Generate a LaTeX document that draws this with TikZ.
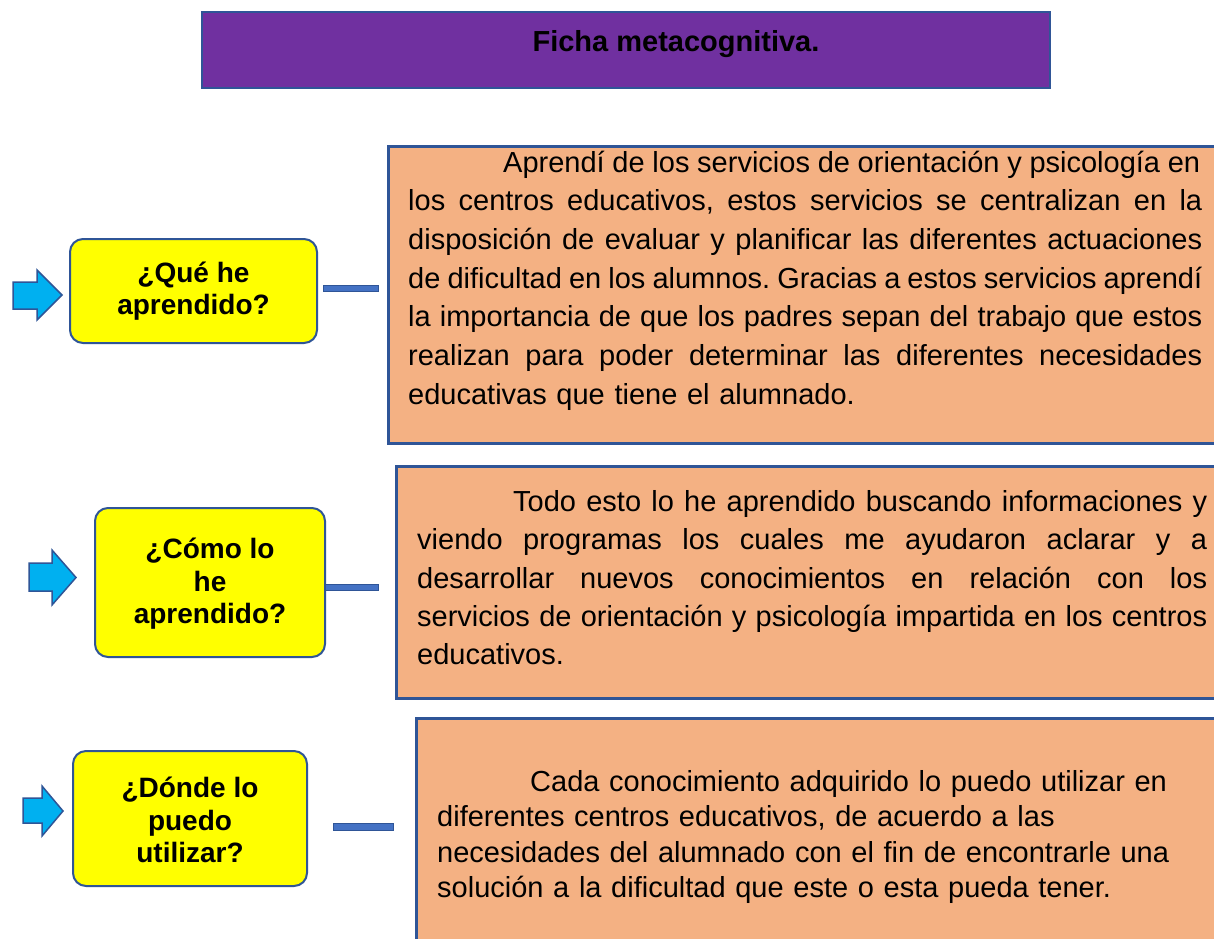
\documentclass[tikz,border=0pt]{standalone}
\usepackage{fontspec}
\setmainfont{Liberation Sans}
\frenchspacing
\definecolor{titlepurple}{HTML}{7030A0}
\definecolor{edgeblue}{HTML}{2F5597}
\definecolor{boxorange}{HTML}{F4B183}
\definecolor{qyellow}{HTML}{FFFF00}
\definecolor{arrowcyan}{HTML}{00B0F0}
\definecolor{barblue}{HTML}{4472C4}
\newcommand\jl[2]{{\spaceskip=0.278em plus 1fil minus 0.12em\xspaceskip=\spaceskip\makebox[#1][s]{#2}}}
\begin{document}
\begin{tikzpicture}[x=1pt,y=-1pt,
  titlebox/.style={draw=edgeblue,line width=2pt,fill=titlepurple,inner sep=0pt},
  orangebox/.style={draw=edgeblue,line width=2.5pt,fill=boxorange,inner sep=0pt},
  qbox/.style={draw=edgeblue,line width=2pt,fill=qyellow,rounded corners=13pt,inner sep=0pt},
  qtext/.style={align=center,inner sep=0pt,font=\fontsize{28}{32.5}\selectfont\bfseries},
  bodytext/.style={align=left,inner sep=0pt,anchor=north west,font=\fontsize{29}{38.7}\selectfont},
  blockarrow/.style={draw=edgeblue,line width=1.5pt,fill=arrowcyan,line join=miter},
  barline/.style={draw=edgeblue,line width=1pt,fill=barblue}]
\clip (0,0) rectangle (1214,938);
\fill[white] (0,0) rectangle (1214,938);

% title
\node[titlebox,minimum width=848pt,minimum height=76pt] (title) at (626,50) {};
\node[inner sep=0pt,anchor=base,font=\fontsize{29}{33}\selectfont\bfseries] (titletext) at (676,51) {Ficha metacognitiva.};

% orange boxes
\node[orangebox,anchor=north west,minimum width=850pt,minimum height=297pt] (b1) at (387,145) {};
\node[orangebox,anchor=north west,minimum width=850pt,minimum height=232pt] (b2) at (395,465) {};
\node[orangebox,anchor=north west,minimum width=850pt,minimum height=260pt] (b3) at (415,717) {};

\node[bodytext,text width=800pt] (t1) at (408,144.9) {\noindent\strut\hspace*{95pt}\jl{697pt}{Aprendí de los servicios de orientación y psicología en}\\
\jl{794pt}{los centros educativos, estos servicios se centralizan en la}\\
\jl{794pt}{disposición de evaluar y planificar las diferentes actuaciones}\\
\jl{794pt}{de dificultad en los alumnos. Gracias a estos servicios aprendí}\\
\jl{794pt}{la importancia de que los padres sepan del trabajo que estos}\\
\jl{794pt}{realizan para poder determinar las diferentes necesidades}\\
educativas que tiene el alumnado.};

\node[bodytext,text width=796pt,font=\fontsize{29}{38.3}\selectfont] (t2) at (417,484.5) {\noindent\strut\hspace*{96pt}\jl{694pt}{Todo esto lo he aprendido buscando informaciones y}\\
\jl{790pt}{viendo programas los cuales me ayudaron aclarar y a}\\
\jl{790pt}{desarrollar nuevos conocimientos en relación con los}\\
\jl{790pt}{servicios de orientación y psicología impartida en los centros}\\
educativos.};

\node[bodytext,text width=770pt,font=\fontsize{29}{35.3}\selectfont] (t3) at (437,766.5) {\noindent\strut\hspace*{93pt}Cada conocimiento adquirido lo puedo utilizar en\\
diferentes centros educativos, de acuerdo a las\\
necesidades del alumnado con el fin de encontrarle una\\
solución a la dificultad que este o esta pueda tener.};

% question boxes
\node[qbox,minimum width=247pt,minimum height=104pt] (q1) at (193.5,291) {};
\node[qtext] (q1t) at (q1) {¿Qué he\\aprendido?};
\node[qbox,minimum width=230pt,minimum height=149pt] (q2) at (210,582.5) {};
\node[qtext] (q2t) at (210,584) {¿Cómo lo\\he\\aprendido?};
\node[qbox,minimum width=234pt,minimum height=135pt] (q3) at (190,818.5) {};
\node[qtext] (q3t) at (190,820) {¿Dónde lo\\puedo\\utilizar?};

% block arrows
\draw[blockarrow] (13,282) -- (37,282) -- (37,270) -- (62,295) -- (37,320) -- (37,309) -- (13,309) -- cycle;
\draw[blockarrow] (29,563) -- (52,563) -- (52,550) -- (76,577.5) -- (52,605) -- (52,591) -- (29,591) -- cycle;
\draw[blockarrow] (23,798) -- (42,798) -- (42,786) -- (63,811) -- (42,836) -- (42,823) -- (23,823) -- cycle;

% bars
\draw[barline] (323,285) rectangle (378,291);
\draw[barline] (325,584) rectangle (378,590);
\draw[barline] (333,823) rectangle (393,830);
\end{tikzpicture}
\end{document}
